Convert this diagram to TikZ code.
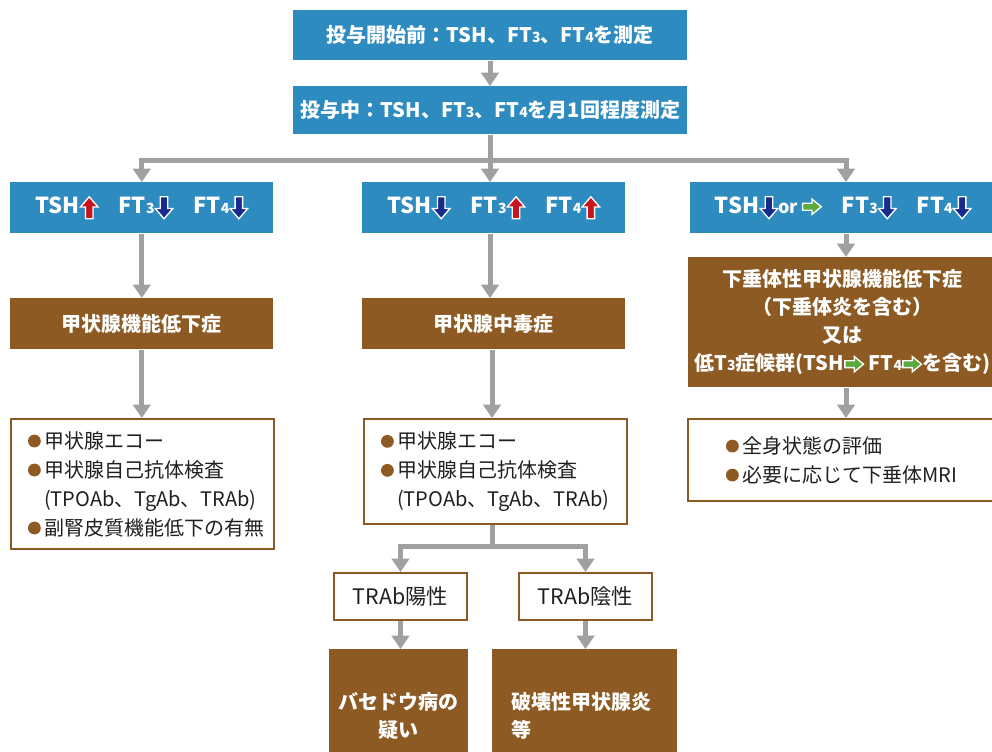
\documentclass[tikz,border=0pt]{standalone}
\usepackage{fontspec}
\setmainfont{Noto Sans CJK JP}
\usetikzlibrary{arrows.meta}
\definecolor{bluec}{HTML}{2E8BC0}
\definecolor{brownc}{HTML}{8C5A22}
\definecolor{grayc}{HTML}{A0A0A0}
\definecolor{txtc}{HTML}{231F20}
\definecolor{redc}{HTML}{C4161C}
\definecolor{navyc}{HTML}{162B8C}
\definecolor{greenc}{HTML}{5BAA3B}
\newcommand\dg[1]{{\fontsize{10.5pt}{10pt}\selectfont #1}}
\newcommand\aup{\tikz[baseline=0pt,x=1pt,y=1pt]\filldraw[fill=redc,draw=white,line width=1pt,line join=miter] (-2.8,-4)--(2.8,-4)--(2.8,4.8)--(6.6,4.8)--(0,12.5)--(-6.6,4.8)--(-2.8,4.8)--cycle;}
\newcommand\adn{\tikz[baseline=0pt,x=1pt,y=1pt]\filldraw[fill=navyc,draw=white,line width=1pt,line join=miter] (-2.8,12.5)--(2.8,12.5)--(2.8,3.7)--(6.6,3.7)--(0,-4)--(-6.6,3.7)--(-2.8,3.7)--cycle;}
\newcommand\art{\tikz[baseline=0pt,x=1pt,y=1pt]\filldraw[fill=greenc,draw=white,line width=1pt,line join=miter] (0,2.4)--(7,2.4)--(7,-0.8)--(14,5)--(7,10.8)--(7,7.6)--(0,7.6)--cycle;}
\newcommand\bul{\tikz[baseline=0pt,x=1pt,y=1pt]\fill[brownc] (4.8,5.3) circle (4.8pt);\kern2.5pt}
\begin{document}
\begin{tikzpicture}[x=0.75pt,y=-0.75pt,
  sz/.style 2 args={minimum width=#1*0.75pt, minimum height=#2*0.75pt},
  bluebox/.style={fill=bluec, text=white, inner sep=0pt, anchor=north west,
    font=\bfseries\fontsize{15pt}{18pt}\selectfont},
  rowbox/.style={bluebox, font=\bfseries\fontsize{16.5pt}{18pt}\selectfont},
  brownbox/.style={fill=brownc, text=white, inner sep=0pt, anchor=north west, align=center,
    font=\bfseries\fontsize{15pt}{21pt}\selectfont},
  whitebox/.style={draw=brownc, line width=1.5pt, fill=white, text=txtc, inner sep=0pt,
    anchor=north west, align=left, font=\fontsize{15pt}{21.75pt}\selectfont},
  ln/.style={draw=grayc, line width=3.75pt},
  arr/.style={ln, -{Triangle[width=13pt,length=10pt]}}]
\useasboundingbox (0,0) rectangle (992,751);
\clip (0,0) rectangle (992,751);

% top boxes
\node[bluebox, sz={394}{50}] (top) at (293,10) {投与開始前：TSH、FT\dg{3}、FT\dg{4}を測定};
\node[bluebox, sz={394}{48}] (mid) at (293,86) {投与中：TSH、FT\dg{3}、FT\dg{4}を月1回程度測定};

% row boxes
\node[rowbox, sz={263}{51}] (rowL) at (10,182) {TSH\aup{}\hspace{15pt}FT\dg{3}\adn{}\hspace{15pt}FT\dg{4}\adn{}};
\node[rowbox, sz={263}{51}] (rowM) at (362,182) {TSH\adn{}\hspace{15pt}FT\dg{3}\aup{}\hspace{15pt}FT\dg{4}\aup{}};
\node[rowbox, sz={306}{51}] (rowR) at (690,182) {TSH\adn{}{\fontsize{13.5pt}{15pt}\selectfont or}\,\art{}\hspace{15pt}FT\dg{3}\adn{}\hspace{15pt}FT\dg{4}\adn{}};

% brown diagnosis boxes
\node[brownbox, sz={263}{51}] (brL) at (10,298) {甲状腺機能低下症};
\node[brownbox, sz={263}{51}] (brM) at (362,298) {甲状腺中毒症};
\node[brownbox, sz={308}{130}] (brR) at (688,257) {下垂体性甲状腺機能低下症\\（下垂体炎を含む）\\又は\\低T\dg{3}症候群(TSH\art{}\ FT\dg{4}\art{}を含む)};

% white exam boxes
\node[whitebox, sz={263}{130}, text width=229*0.75pt] (wL) at (10,418)
  {\bul{}甲状腺エコー\\\bul{}甲状腺自己抗体検査\\\phantom{\bul{}}(TPOAb、TgAb、TRAb)\\\bul{}副腎皮質機能低下の有無};
\node[whitebox, sz={263}{105}, text width=229*0.75pt] (wM) at (363,418)
  {\bul{}甲状腺エコー\\\bul{}甲状腺自己抗体検査\\\phantom{\bul{}}(TPOAb、TgAb、TRAb)};
\node[whitebox, sz={313}{82}, text width=237*0.75pt] (wR) at (687,418)
  {\bul{}全身状態の評価\\\bul{}必要に応じて下垂体MRI};

% TRAb boxes
\node[whitebox, sz={133}{47}, align=center, font=\fontsize{16pt}{18pt}\selectfont] (tp) at (333,572) {TRAb陽性};
\node[whitebox, sz={133}{47}, align=center, font=\fontsize{16pt}{18pt}\selectfont] (tn) at (518,572) {TRAb陰性};

% bottom brown boxes
\node[brownbox, sz={139}{134}] (bp) at (329,649) {バセドウ病の\\疑い};
\node[brownbox, sz={185}{134}, align=left, text width=146*0.75pt] (bn) at (492,649) {破壊性甲状腺炎\\等};

% connectors
\coordinate (br) at (490,160);
\coordinate (rx) at (846,0);
\draw[arr] (top.south -| br) -- (mid.north -| br);
\draw[ln] (mid.south -| br) -- (br);
\draw[arr] (br) -| (rowL.north);
\draw[arr] (br) -- (br |- rowM.north);
\draw[arr] (br) -| (rx |- rowR.north);

\draw[arr] (rowL.south) -- (brL.north);
\draw[arr] (brL.south) -- (wL.north -| brL.south);
\draw[arr] (rowM.south -| br) -- (brM.north -| br);
\coordinate (mx) at (492,0);
\draw[arr] (brM.south -| mx) -- (wM.north -| mx);
\draw[arr] (rx |- rowR.south) -- (rx |- brR.north);
\draw[arr] (rx |- brR.south) -- (rx |- wR.north);

\coordinate (b2) at (492,546);
\draw[ln] (wM.south -| b2) -- (b2);
\draw[arr] (b2) -| (tp.north);
\draw[arr] (b2) -| (tn.north);
\draw[arr] (tp.south) -- (bp.north -| tp.south);
\draw[arr] (tn.south) -- (bn.north -| tn.south);
\end{tikzpicture}
\end{document}
